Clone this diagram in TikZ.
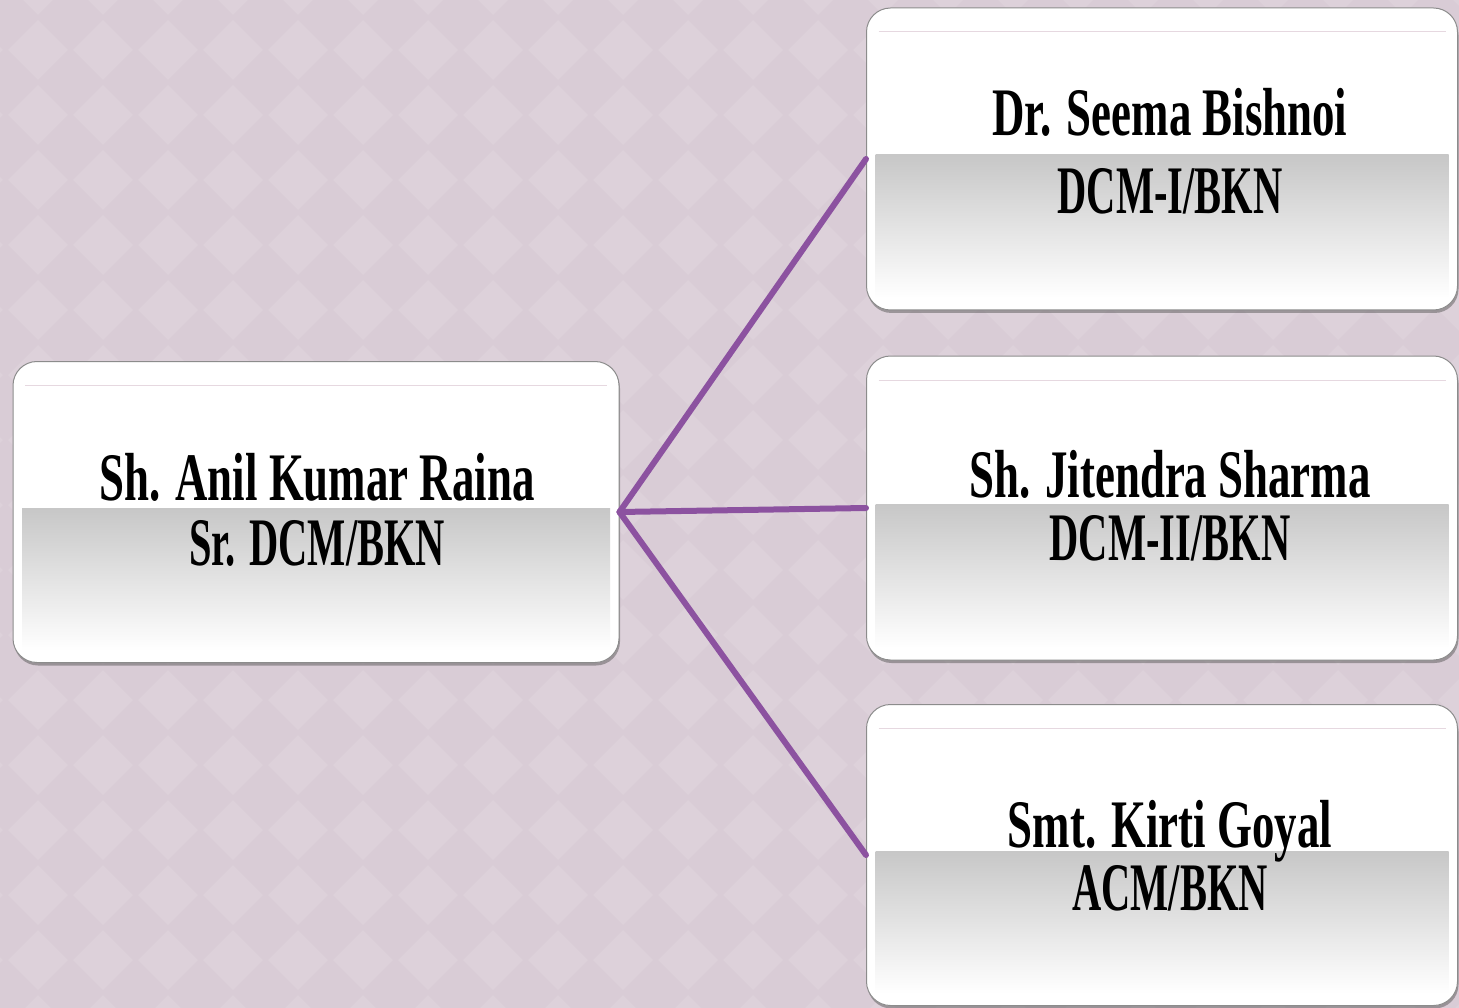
\documentclass[tikz,border=0pt]{standalone}
\usepackage{fontspec}
\newfontfamily\orgfont{Liberation Serif}[FakeStretch=0.66]
\newfontfamily\orgnarrow{Liberation Serif}[FakeStretch=0.595]
\usetikzlibrary{shadows}
\definecolor{bgdark}{HTML}{D9CCD6}
\definecolor{bglight}{HTML}{DDD1DA}
\definecolor{linkpurple}{HTML}{8C52A0}
\definecolor{rimline}{HTML}{E6D8E0}
\tikzset{
  orgbox/.style={draw=black!45, line width=1pt, rounded corners=24pt, fill=white,
    inner sep=0pt,
    drop shadow={shadow xshift=1pt, shadow yshift=-3pt, opacity=0.45, fill=black!70},
    path picture={
      \fill[white, sharp corners] (path picture bounding box.north west) rectangle (path picture bounding box.south east);
      \shade[sharp corners, top color=black!22, bottom color=white]
        ([xshift=9pt,yshift=4pt]path picture bounding box.west) rectangle
        ([xshift=-9pt,yshift=12pt]path picture bounding box.south east);
      \draw[sharp corners, rimline, line width=1pt]
        ([xshift=12pt,yshift=-24pt]path picture bounding box.north west) --
        ([xshift=-12pt,yshift=-24pt]path picture bounding box.north east);
    }},
  lbl/.style={font=\orgfont\bfseries\fontsize{68}{68}\selectfont, anchor=base, inner sep=0pt},
  lbltwo/.style={font=\orgnarrow\bfseries\fontsize{68}{68}\selectfont, anchor=base, inner sep=0pt},
  link/.style={draw=linkpurple, line width=6pt, line cap=round}
}
\begin{document}
\begin{tikzpicture}[x=1pt,y=-1pt]
\useasboundingbox (0,0) rectangle (1459,1008);
\fill[bgdark] (0,0) rectangle (1459,1008);
\foreach \i in {-1,...,23}{
  \foreach \j in {-1,...,16}{
    \fill[bglight] ({\i*65+38},{\j*65+50}) +(-30,0) -- +(0,-30) -- +(30,0) -- +(0,30) -- cycle;
  }}
\node[orgbox, minimum width=606pt, minimum height=301pt] (L) at (316,512) {};
\node[orgbox, minimum width=591pt, minimum height=302pt] (A) at (1162,159) {};
\node[orgbox, minimum width=591pt, minimum height=304pt] (B) at (1162,508) {};
\node[orgbox, minimum width=591pt, minimum height=301pt] (C) at (1162,855) {};
\draw[link] (L.east) -- (A.west);
\draw[link] (L.east) -- (B.west);
\draw[link] (L.east) -- (C.west);
\node[lbl] (L1) at (317,500) {Sh. Anil Kumar Raina};
\node[lbltwo] (L2) at (317,565) {Sr. DCM/BKN};
\node[lbl] (A1) at (1170,136) {Dr. Seema Bishnoi};
\node[lbltwo] (A2) at (1170,214) {DCM-I/BKN};
\node[lbl] (B1) at (1170,497) {Sh. Jitendra Sharma};
\node[lbltwo] (B2) at (1170,560) {DCM-II/BKN};
\node[lbl] (C1) at (1170,847) {Smt. Kirti Goyal};
\node[lbltwo] (C2) at (1170,910) {ACM/BKN};
\end{tikzpicture}
\end{document}
